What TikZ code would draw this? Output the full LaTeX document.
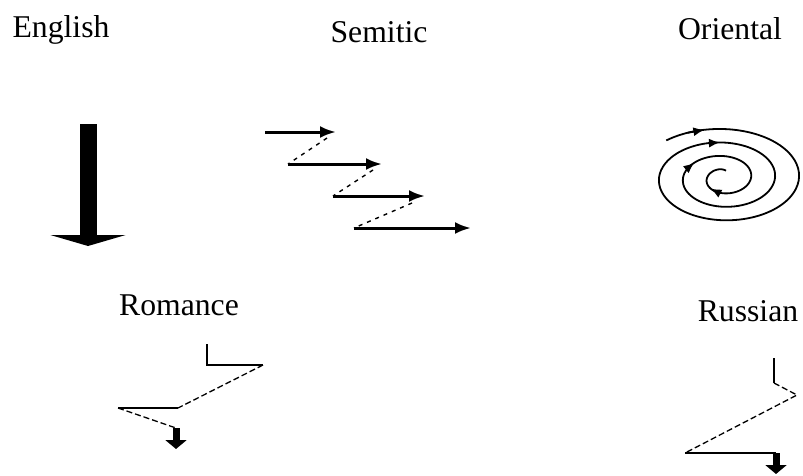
\documentclass[tikz,border=0pt]{standalone}
\usepackage{fontspec}
\setmainfont{Liberation Serif}
\usetikzlibrary{arrows.meta}

\begin{document}
% a point of the spiral at angle #2, in picture units
\newcommand{\spiralpt}[2]{%
  \coordinate (#1) at ({723+(70-(#2-450)/15)*cos(#2)},
                       {178+(49-(#2-270)*0.0375)*sin(#2)});}

\begin{tikzpicture}[x=1pt, y=-1pt, >=Latex,
  every node/.style={font=\fontsize{31.7}{36}\selectfont, inner sep=0pt, anchor=base},
  semarrow/.style={line width=3pt, -{Latex[length=16pt,width=12pt]}},
  hop/.style={line width=1.4pt, dash pattern=on 4pt off 5pt},
  solidline/.style={line width=1.6pt},
  dashline/.style={line width=1.3pt, dash pattern=on 6pt off 3pt},
  spiral/.style={line width=1.8pt},
  spiralhead/.style={line width=1.8pt, -{Latex[length=11pt,width=9pt]}},
  downarrow/.style={line width=#1, -{Triangle[length=9pt,width=21pt]}}]
  \useasboundingbox (0,0) rectangle (803,475);

  % titles
  \node (english) at (61,37) {English};
  \node (semitic) at (379,42) {Semitic};
  \node (oriental) at (730,39) {Oriental};
  \node (romance) at (179,315) {Romance};
  \node (russian) at (748,321) {Russian};

  % English
  \coordinate (e1) at (88,124);
  \coordinate (e2) at (88,246);
  \draw[line width=17pt, -{Triangle[length=11pt,width=75pt]}] (e1) -- (e2);

  % Semitic
  \coordinate (s1a) at (265,132); \coordinate (s1b) at (336,132);
  \coordinate (s2a) at (288,164); \coordinate (s2b) at (382,164);
  \coordinate (s3a) at (333,196); \coordinate (s3b) at (425,196);
  \coordinate (s4a) at (354,228); \coordinate (s4b) at (471,228);
  \draw[semarrow] (s1a) -- (s1b);
  \draw[semarrow] (s2a) -- (s2b);
  \draw[semarrow] (s3a) -- (s3b);
  \draw[semarrow] (s4a) -- (s4b);
  \coordinate (h1) at (327,138); \coordinate (h2) at (373,170);
  \coordinate (h3) at (412,203);
  \draw[hop] (h1) -- (s2a);
  \draw[hop] (h2) -- (s3a);
  \draw[hop] (h3) -- (s4a);

  % Oriental
  \draw[spiral] plot[domain=228:1370, samples=220, smooth]
    ({723+(70-(\x-450)/15)*cos(\x)},
     {178+(49-(\x-270)*0.0375)*sin(\x)});
  \spiralpt{o1a}{245} \spiralpt{o1}{257}
  \spiralpt{o2a}{615} \spiralpt{o2}{627}
  \spiralpt{o3a}{925} \spiralpt{o3}{940}
  \spiralpt{o4a}{1185} \spiralpt{o4}{1210}
  \draw[spiralhead] (o1a) -- (o1);
  \draw[spiralhead] (o2a) -- (o2);
  \draw[spiralhead] (o3a) -- (o3);
  \draw[spiralhead] (o4a) -- (o4);

  % Romance
  \coordinate (r1) at (207,344); \coordinate (r2) at (207,365);
  \coordinate (r3) at (263,365); \coordinate (r4) at (178,408);
  \coordinate (r5) at (118,408); \coordinate (r6) at (176,428);
  \coordinate (r7) at (176,449);
  \draw[solidline] (r1) -- (r2) -- (r3);
  \draw[dashline] (r3) -- (r4);
  \draw[solidline] (r4) -- (r5);
  \draw[dashline] (r5) -- (r6);
  \draw[downarrow=7pt] (r6) -- (r7);

  % Russian
  \coordinate (u1) at (774,358); \coordinate (u2) at (774,383);
  \coordinate (u3) at (797,395); \coordinate (u4) at (685,453);
  \coordinate (u5) at (776,453); \coordinate (u6) at (776,474);
  \draw[solidline] (u1) -- (u2);
  \draw[dashline] (u2) -- (u3) -- (u4);
  \draw[solidline] (u4) -- (u5);
  \draw[downarrow=7pt] (u5) -- (u6);
\end{tikzpicture}
\end{document}
